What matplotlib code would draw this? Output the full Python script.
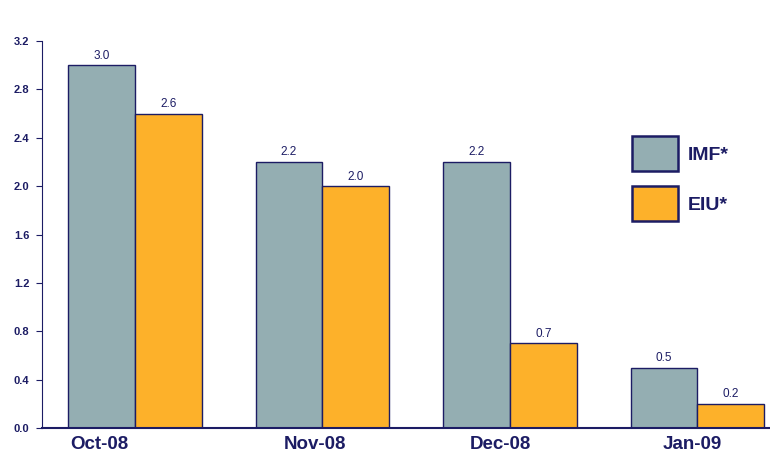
import matplotlib.pyplot as plt
import numpy as np

months = ['Oct-08', 'Nov-08', 'Dec-08', 'Jan-09']
imf = [3.0, 2.2, 2.2, 0.5]
eiu = [2.6, 2.0, 0.7, 0.2]
series_names = ['IMF*', 'EIU*']

NAVY = '#1c1c64'
GRAY = '#94aeb2'
ORANGE = '#fdb12a'

plt.rcParams['font.family'] = ['Liberation Sans Narrow', 'Liberation Sans', 'DejaVu Sans']

fig = plt.figure(figsize=(7.7, 4.62), dpi=100)
ax = fig.add_axes([0.0545, 0.0736, 0.9455, 0.8374])

x = np.arange(len(months))
w = 0.357
b1 = ax.bar(x - w / 2, imf, w, color=GRAY, edgecolor=NAVY, linewidth=1, label=series_names[0])
b2 = ax.bar(x + w / 2, eiu, w, color=ORANGE, edgecolor=NAVY, linewidth=1, label=series_names[1])

for bars, vals in [(b1, imf), (b2, eiu)]:
    for r, v in zip(bars, vals):
        ax.text(r.get_x() + r.get_width() / 2, v + 0.03, f'{v:.1f}',
                ha='center', va='bottom', fontsize=8.5, color=NAVY)

ax.set_xlim(-0.496, 3.387)
ax.set_ylim(0, 3.2)
ax.set_yticks(np.arange(0, 3.21, 0.4))
ax.set_yticklabels([f'{t:.1f}' for t in np.arange(0, 3.21, 0.4)],
                   fontsize=8, fontweight='bold', color=NAVY)
ax.set_xticks([-0.19, 0.96, 1.95, 2.97])
ax.set_xticklabels(months, fontsize=13.5, fontweight='bold', color=NAVY)
ax.tick_params(axis='x', length=0, pad=6)
ax.tick_params(axis='y', length=4, color=NAVY, pad=5)

for s in ['top', 'right']:
    ax.spines[s].set_visible(False)
ax.spines['left'].set_color(NAVY)
ax.spines['bottom'].set_color(NAVY)
ax.spines['bottom'].set_linewidth(1.5)

leg = ax.legend(loc='upper left', bbox_to_anchor=(0.786, 0.80), frameon=False,
                handlelength=2.4, handleheight=2.4, handletextpad=0.5,
                labelspacing=0.78, prop={'size': 14, 'weight': 'bold'})
for t in leg.get_texts():
    t.set_color(NAVY)
for p in leg.get_patches():
    p.set_linewidth(1.8)

fig.savefig('out.png', dpi=100)
